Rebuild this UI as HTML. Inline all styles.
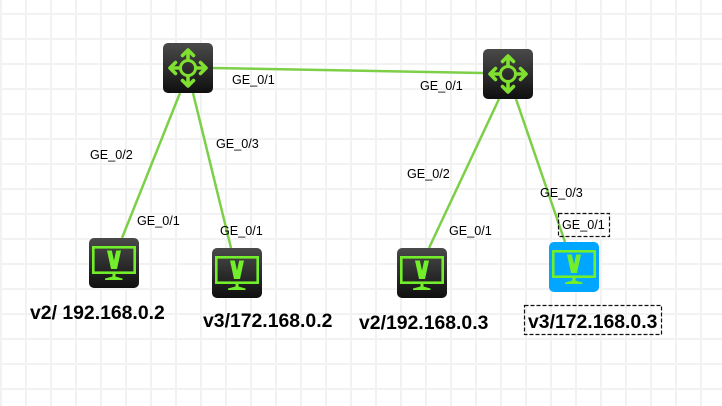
<!DOCTYPE html>
<html><head><meta charset="utf-8"><style>
html,body{margin:0;padding:0;background:#fff}
svg{display:block}
text{font-family:"Liberation Sans",sans-serif}
.s{font-size:12.6px;fill:#000}
.b{font-size:19.4px;font-weight:bold;fill:#000}
</style></head><body>
<svg width="722" height="406" viewBox="0 0 722 406" xmlns="http://www.w3.org/2000/svg">
<defs>
<pattern id="g" width="25" height="25" patternUnits="userSpaceOnUse" x="0" y="1.5">
<path d="M1 0V25M0 12.5H25" stroke="#f2f2f2" stroke-width="2" fill="none"/>
</pattern>
<linearGradient id="d" x1="0" y1="0" x2="0" y2="1"><stop offset="0" stop-color="#4a4a4a"/><stop offset=".55" stop-color="#2a2a2a"/><stop offset="1" stop-color="#0f0f0f"/></linearGradient>
<g id="router">
<rect width="50" height="50" rx="5" fill="url(#d)"/>
<g stroke="#7fe030" fill="none" stroke-linecap="round" stroke-linejoin="round">
<circle cx="25" cy="25" r="7.5" stroke-width="3"/>
<path stroke-width="3.6" d="M25 17V8M25 33V42M17 25H8M33 25H42"/>
<path stroke-width="3.6" d="M19.5 12.5L25 7L30.5 12.5M19.5 37.5L25 43L30.5 37.5M12.5 19.5L7 25L12.5 30.5M37.5 19.5L43 25L37.5 30.5"/>
</g>
</g>
<g id="mon">
<rect x="4.3" y="9.3" width="41.4" height="25.4" fill="none" stroke="#72ee2a" stroke-width="2.6"/>
<path d="M18 12.5H22.8L25 22.5L27.2 12.5H32L28 31H22Z" fill="#72ee2a"/>
<path d="M23.5 36H26.5V38.5L33.5 40.5V42H16V40.5L23.5 38.5Z" fill="#72ee2a"/>
</g>
</defs>
<rect width="722" height="406" fill="url(#g)"/>
<g stroke="#7ccf47" stroke-width="2.5" fill="none">
<path d="M213 68L483 73"/>
<path d="M180 93L122 238"/>
<path d="M193 93L231 248"/>
<path d="M499 99L429 248"/>
<path d="M516 99L565 242"/>
</g>
<use href="#router" x="163" y="43"/>
<use href="#router" x="483" y="49"/>
<rect x="89" y="238" width="50" height="50" rx="5" fill="url(#d)"/><use href="#mon" x="89" y="238"/>
<rect x="212" y="248" width="50" height="50" rx="5" fill="url(#d)"/><use href="#mon" x="212" y="248"/>
<rect x="397" y="248" width="50" height="50" rx="5" fill="url(#d)"/><use href="#mon" x="397" y="248"/>
<rect x="549" y="242" width="50" height="50" rx="5" fill="#00a6ff"/><use href="#mon" x="549" y="242"/>
<text class="s" x="232" y="84">GE_0/1</text>
<text class="s" x="420" y="90">GE_0/1</text>
<text class="s" x="90" y="159">GE_0/2</text>
<text class="s" x="216" y="148">GE_0/3</text>
<text class="s" x="137" y="225">GE_0/1</text>
<text class="s" x="220" y="235">GE_0/1</text>
<text class="s" x="407" y="178">GE_0/2</text>
<text class="s" x="449" y="235">GE_0/1</text>
<text class="s" x="540" y="197">GE_0/3</text>
<text class="s" x="562" y="229">GE_0/1</text>
<rect x="558.5" y="213.5" width="51" height="23" fill="none" stroke="#111" stroke-width="1.2" stroke-dasharray="4 2"/>
<text class="b" x="30" y="319">v2/ 192.168.0.2</text>
<text class="b" x="203" y="327">v3/172.168.0.2</text>
<text class="b" x="359" y="329">v2/192.168.0.3</text>
<text class="b" x="528" y="328">v3/172.168.0.3</text>
<rect x="524.5" y="305.5" width="137" height="29" fill="none" stroke="#111" stroke-width="1.2" stroke-dasharray="4 2"/>
</svg>
</body></html>
